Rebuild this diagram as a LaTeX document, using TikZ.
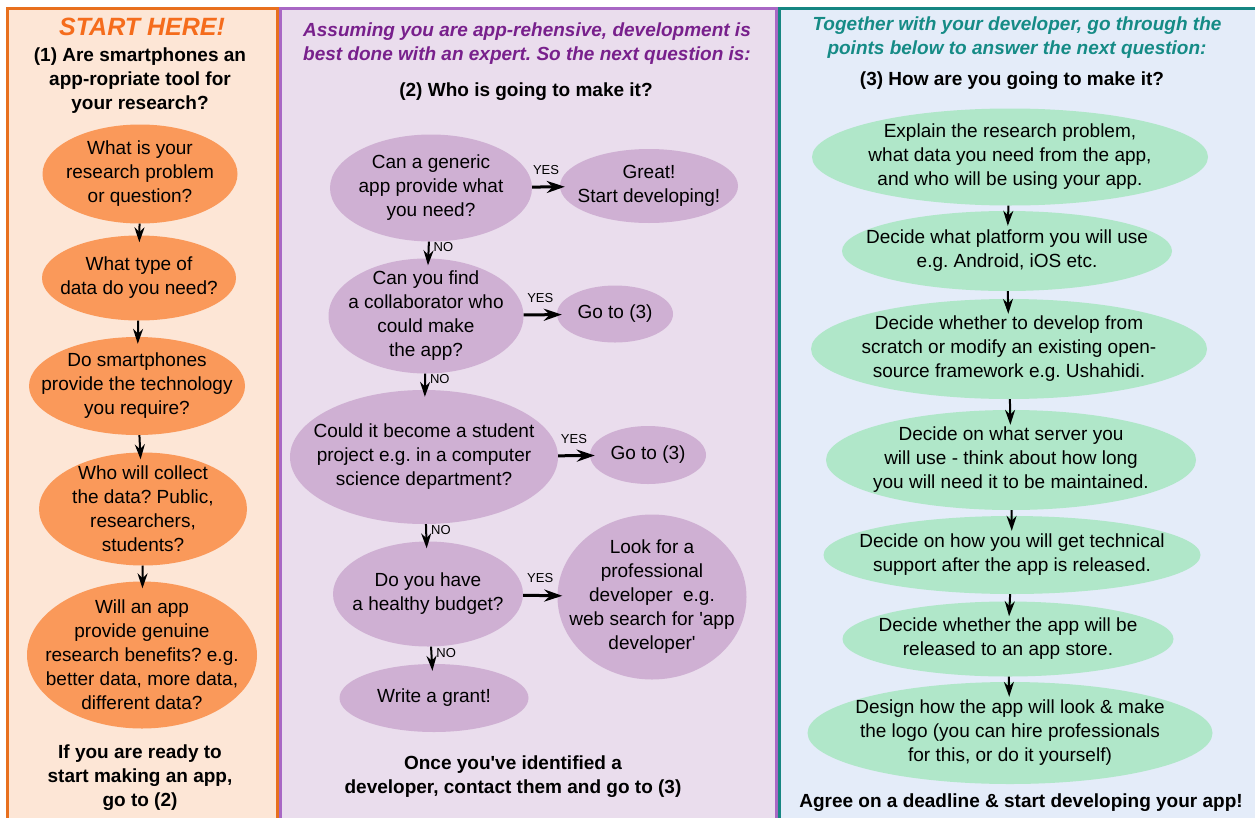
\documentclass[tikz,border=0pt]{standalone}
\usepackage{fontspec}
\setmainfont{Liberation Sans}
\usetikzlibrary{shapes.geometric,arrows.meta}
\frenchspacing

\definecolor{orangeback}{RGB}{253,230,214}
\definecolor{orangeline}{RGB}{232,112,30}
\definecolor{orangebubble}{RGB}{250,153,90}
\definecolor{orangetitle}{RGB}{245,108,28}
\definecolor{purpleback}{RGB}{234,221,237}
\definecolor{purpleline}{RGB}{168,103,196}
\definecolor{purplebubble}{RGB}{207,176,211}
\definecolor{purpletitle}{RGB}{120,32,140}
\definecolor{tealback}{RGB}{228,236,249}
\definecolor{tealline}{RGB}{22,134,130}
\definecolor{greenbubble}{RGB}{176,231,201}
\definecolor{tealtitle}{RGB}{21,139,134}

\tikzset{
    bubble/.style={ellipse, inner sep=-40pt, align=center, font=\fontsize{19}{24}\selectfont},
    heading/.style={align=center, font=\fontsize{19}{24}\selectfont\bfseries},
    slanthead/.style={align=center, font=\fontsize{19}{24}\selectfont\bfseries\itshape},
    nextarrow/.style={-{Stealth[length=15pt,width=10pt]}, line width=2pt, shorten >=-7pt},
    yesarrow/.style={-{Stealth[length=18pt,width=12pt]}, line width=3pt, shorten >=-5pt},
    yeslabel/.style={above=10pt, inner sep=1pt, font=\fontsize{13}{15}\selectfont},
    nolabel/.style={right, pos=0.35, inner sep=4pt, font=\fontsize{13}{15}\selectfont}
}

\begin{document}
\begin{tikzpicture}[x=1pt, y=-1pt]
        \useasboundingbox (0,0) rectangle (1255,817);
        \clip (0,0) rectangle (1255,817);
        \fill[white] (0,0) rectangle (1255,817);

        \fill[orangeback] (7,8) rectangle (277,830);
        \draw[orangeline, line width=3pt] (7,830) -- (7,8) -- (277,8) -- (277,830);
        \fill[purpleback] (280,8) rectangle (776,830);
        \draw[purpleline, line width=3pt] (280,830) -- (280,8) -- (776,8) -- (776,830);
        \fill[tealback] (779,8) rectangle (1262,830);
        \draw[tealline, line width=3pt] (779,830) -- (779,8) -- (1262,8);

        \node[font=\fontsize{25}{30}\selectfont\bfseries\itshape, text=orangetitle] (start) at (142,27) {START HERE!};
        \node[heading] (q1) at (140,81) {(1) Are smartphones an\\app-ropriate tool for\\your research?};
        \node[bubble, fill=orangebubble, minimum width=195pt, minimum height=99pt] (o1) at (140,174) {What is your\\research problem\\or question?};
        \node[bubble, fill=orangebubble, minimum width=194pt, minimum height=85pt] (o2) at (139,278) {What type of\\data do you need?};
        \node[bubble, fill=orangebubble, minimum width=216pt, minimum height=98pt] (o3) at (137,386) {Do smartphones\\provide the technology\\you require?};
        \node[bubble, fill=orangebubble, minimum width=208pt, minimum height=113pt] (o4) at (143,509) {Who will collect\\the data? Public,\\researchers,\\students?};
        \node[bubble, fill=orangebubble, minimum width=230pt, minimum height=147pt] (o5) at (142,655) {Will an app\\provide genuine\\research benefits? e.g.\\better data, more data,\\different data?};
        \node[heading] (end1) at (140,778) {If you are ready to\\start making an app,\\go to (2)};

        \node[slanthead, text=purpletitle] (title2) at (527,44) {Assuming you are app-rehensive, development is\\best done with an expert. So the next question is:};
        \node[heading] (q2) at (526,92) {(2) Who is going to make it?};
        \node[bubble, fill=purplebubble, minimum width=202pt, minimum height=107pt] (p1) at (431,188) {Can a generic\\app provide what\\you need?};
        \node[bubble, fill=purplebubble, minimum width=178pt, minimum height=74pt] (great) at (649,186) {Great!\\Start developing!};
        \node[bubble, fill=purplebubble, minimum width=195pt, minimum height=115pt] (p2) at (426,316) {Can you find\\a collaborator who\\could make\\the app?};
        \node[bubble, fill=purplebubble, minimum width=116pt, minimum height=57pt] (go1) at (615,314) {Go to (3)};
        \node[bubble, fill=purplebubble, minimum width=268pt, minimum height=134pt] (p3) at (424,457) {Could it become a student\\project e.g. in a computer\\science department?};
        \node[bubble, fill=purplebubble, minimum width=116pt, minimum height=58pt] (go2) at (648,455) {Go to (3)};
        \node[bubble, fill=purplebubble, minimum width=190pt, minimum height=105pt] (p4) at (428,594) {Do you have\\a healthy budget?};
        \node[bubble, fill=purplebubble, minimum width=189pt, minimum height=165pt] (look) at (652,597) {Look for a\\professional\\developer\ \ e.g.\\web search for \textquotesingle app\\developer\textquotesingle};
        \node[bubble, fill=purplebubble, minimum width=189pt, minimum height=68pt] (grant) at (434,698) {Write a grant!};
        \node[heading] (end2) at (513,777) {Once you\textquotesingle ve identified a\\developer, contact them and go to (3)};

        \node[slanthead, text=tealtitle] (title3) at (1017,38) {Together with your developer, go through the\\points below to answer the next question:};
        \node[heading] (q3) at (1012,81) {(3) How are you going to make it?};
        \node[bubble, fill=greenbubble, minimum width=396pt, minimum height=97pt] (g1) at (1010,157) {Explain the research problem,\\what data you need from the app,\\and who will be using your app.};
        \node[bubble, fill=greenbubble, minimum width=330pt, minimum height=80pt] (g2) at (1007,251) {Decide what platform you will use\\e.g. Android, iOS etc.};
        \node[bubble, fill=greenbubble, minimum width=396pt, minimum height=100pt] (g3) at (1009,349) {Decide whether to develop from\\scratch or modify an existing open-\\source framework e.g. Ushahidi.};
        \node[bubble, fill=greenbubble, minimum width=370pt, minimum height=100pt] (g4) at (1011,460) {Decide on what server you\\will use - think about how long\\you will need it to be maintained.};
        \node[bubble, fill=greenbubble, minimum width=377pt, minimum height=78pt] (g5) at (1012,555) {Decide on how you will get technical\\support after the app is released.};
        \node[bubble, fill=greenbubble, minimum width=331pt, minimum height=75pt] (g6) at (1008,639) {Decide whether the app will be\\released to an app store.};
        \node[bubble, fill=greenbubble, minimum width=405pt, minimum height=102pt] (g7) at (1010,733) {Design how the app will look \& make\\the logo (you can hire professionals\\for this, or do it yourself)};
        \node[heading] (end3) at (1021,803) {Agree on a deadline \& start developing your app!};

        \draw[nextarrow] (o1) -- (o2);
        \draw[nextarrow] (o2) -- (o3);
        \draw[nextarrow] (o3) -- (o4);
        \draw[nextarrow] (o4) -- (o5);

        \draw[yesarrow] (p1) -- node[yeslabel] {YES} (great);
        \draw[nextarrow] (p1) -- node[nolabel] {NO} (p2);
        \draw[yesarrow] (p2) -- node[yeslabel] {YES} (go1);
        \draw[nextarrow] (p2) -- node[nolabel] {NO} (p3);
        \draw[yesarrow] (p3) -- node[yeslabel] {YES} (go2);
        \draw[nextarrow] (p3) -- node[nolabel] {NO} (p4);
        \draw[yesarrow] (p4) -- node[yeslabel] {YES} (look);
        \draw[nextarrow] (p4) -- node[nolabel] {NO} (grant);

        \draw[nextarrow, shorten >=-15pt] (g1) -- (g2);
        \draw[nextarrow, shorten >=-15pt] (g2) -- (g3);
        \draw[nextarrow, shorten >=-15pt] (g3) -- (g4);
        \draw[nextarrow, shorten >=-15pt] (g4) -- (g5);
        \draw[nextarrow, shorten >=-15pt] (g5) -- (g6);
        \draw[nextarrow, shorten >=-15pt] (g6) -- (g7);
\end{tikzpicture}
\end{document}
